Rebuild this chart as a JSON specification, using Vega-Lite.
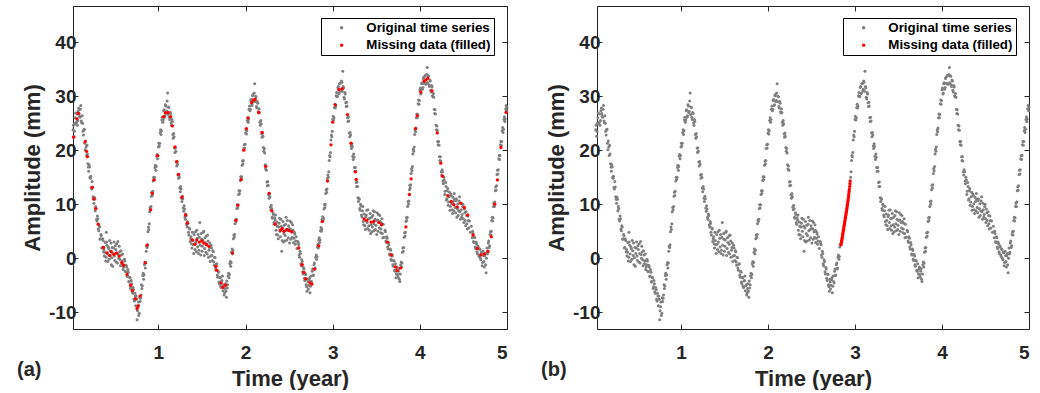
{
"$schema": "https://vega.github.io/schema/vega-lite/v6.json",
"padding": {"left": 16, "top": 5, "right": 0, "bottom": 0},
"background": "white",
"config": {
 "font": "Liberation Sans",
 "view": {"stroke": "#262626", "strokeWidth": 1},
 "axis": {"grid": false, "domain": false, "tickColor": "#262626", "tickSize": -5, "labelFont": "Liberation Sans", "labelFontWeight": "bold", "labelFontSize": 19, "labelColor": "#262626", "titleFont": "Liberation Sans", "titleFontWeight": "bold", "titleFontSize": 22, "titleColor": "#262626"},
 "legend": {"strokeColor": "#000000", "fillColor": "white", "padding": 3, "symbolType": "circle", "symbolSize": 12, "symbolStrokeWidth": 0, "symbolOffset": 11, "labelOffset": 18, "labelFont": "Liberation Sans", "labelFontWeight": "bold", "labelFontSize": 13.3, "labelColor": "#000000", "rowPadding": 3.7, "cornerRadius": 0}
},
"datasets": {
 "g": [
{"t":0.02,"v":23.8},{"t":0.03,"v":22.6},{"t":0.04,"v":25.0},{"t":0.05,"v":26.9},{"t":0.06,"v":25.2},{"t":0.07,"v":24.6},{"t":0.08,"v":27.3},{"t":0.09,"v":26.8},{"t":0.10,"v":26.1},{"t":0.11,"v":28.3},{"t":0.12,"v":25.1},{"t":0.13,"v":25.0},{"t":0.14,"v":22.8},{"t":0.15,"v":23.9},{"t":0.16,"v":20.1},{"t":0.17,"v":20.6},{"t":0.18,"v":20.9},{"t":0.19,"v":17.5},{"t":0.20,"v":16.1},{"t":0.21,"v":16.9},{"t":0.22,"v":14.8},{"t":0.23,"v":13.1},{"t":0.24,"v":14.2},{"t":0.25,"v":11.4},{"t":0.26,"v":10.2},{"t":0.27,"v":10.9},{"t":0.28,"v":9.6},{"t":0.29,"v":7.2},{"t":0.30,"v":7.8},{"t":0.31,"v":5.4},{"t":0.32,"v":6.0},{"t":0.33,"v":3.5},{"t":0.34,"v":4.4},{"t":0.35,"v":1.9},{"t":0.36,"v":3.6},{"t":0.37,"v":1.2},{"t":0.38,"v":0.4},{"t":0.385,"v":1.1},{"t":0.39,"v":2.9},{"t":0.395,"v":-0.5},{"t":0.40,"v":0.2},{"t":0.402,"v":4.8},{"t":0.405,"v":3.0},{"t":0.41,"v":2.4},{"t":0.415,"v":0.8},{"t":0.42,"v":-0.6},{"t":0.425,"v":2.1},{"t":0.43,"v":1.8},{"t":0.435,"v":-0.2},{"t":0.44,"v":3.3},{"t":0.445,"v":1.4},{"t":0.45,"v":0.5},{"t":0.455,"v":2.8},{"t":0.46,"v":-1.2},{"t":0.465,"v":0.1},{"t":0.47,"v":2.0},{"t":0.475,"v":-1.5},{"t":0.48,"v":0.9},{"t":0.485,"v":1.9},{"t":0.49,"v":3.0},{"t":0.495,"v":0.4},{"t":0.50,"v":-0.4},{"t":0.505,"v":2.3},{"t":0.51,"v":1.6},{"t":0.515,"v":-0.7},{"t":0.52,"v":2.7},{"t":0.525,"v":0.9},{"t":0.53,"v":-0.9},{"t":0.535,"v":3.1},{"t":0.54,"v":0.7},{"t":0.545,"v":0.0},{"t":0.55,"v":2.2},{"t":0.555,"v":1.2},{"t":0.56,"v":-0.3},{"t":0.565,"v":-1.4},{"t":0.57,"v":1.4},{"t":0.575,"v":0.6},{"t":0.58,"v":-1.0},{"t":0.585,"v":-0.5},{"t":0.59,"v":0.8},{"t":0.595,"v":-2.1},{"t":0.60,"v":-1.6},
{"t":0.61,"v":-0.2},{"t":0.62,"v":-2.4},{"t":0.63,"v":-1.3},{"t":0.64,"v":-3.4},{"t":0.65,"v":-2.1},{"t":0.66,"v":-4.3},{"t":0.67,"v":-3.5},{"t":0.68,"v":-5.6},{"t":0.69,"v":-4.1},{"t":0.70,"v":-6.2},{"t":0.71,"v":-5.4},{"t":0.72,"v":-7.6},{"t":0.73,"v":-6.5},{"t":0.74,"v":-8.8},{"t":0.745,"v":-7.0},{"t":0.75,"v":-7.6},{"t":0.755,"v":-11.4},{"t":0.76,"v":-9.7},{"t":0.765,"v":-9.0},{"t":0.77,"v":-8.1},{"t":0.775,"v":-10.6},{"t":0.78,"v":-10.2},{"t":0.785,"v":-7.3},{"t":0.79,"v":-8.0},{"t":0.80,"v":-6.8},
{"t":0.81,"v":-5.6},{"t":0.82,"v":-3.2},{"t":0.83,"v":-3.9},{"t":0.84,"v":-1.2},{"t":0.85,"v":-1.8},{"t":0.86,"v":1.3},{"t":0.87,"v":2.0},{"t":0.88,"v":4.9},{"t":0.89,"v":5.3},{"t":0.90,"v":8.6},{"t":0.91,"v":9.0},{"t":0.92,"v":11.5},{"t":0.93,"v":11.6},{"t":0.94,"v":14.3},{"t":0.95,"v":14.6},{"t":0.96,"v":16.8},{"t":0.97,"v":16.3},{"t":0.98,"v":18.9},{"t":0.99,"v":18.4},{"t":1.00,"v":20.6},
{"t":1.01,"v":20.8},{"t":1.02,"v":23.3},{"t":1.03,"v":22.9},{"t":1.04,"v":25.6},{"t":1.05,"v":25.2},{"t":1.06,"v":27.3},{"t":1.07,"v":26.1},{"t":1.08,"v":28.4},{"t":1.09,"v":27.0},{"t":1.10,"v":29.1},{"t":1.105,"v":30.6},{"t":1.11,"v":26.6},{"t":1.12,"v":27.9},{"t":1.13,"v":25.7},{"t":1.14,"v":26.8},{"t":1.15,"v":24.6},{"t":1.16,"v":25.3},{"t":1.17,"v":22.2},{"t":1.18,"v":22.5},{"t":1.19,"v":19.6},{"t":1.20,"v":19.8},
{"t":1.21,"v":17.1},{"t":1.22,"v":17.4},{"t":1.23,"v":14.8},{"t":1.24,"v":15.0},{"t":1.25,"v":12.3},{"t":1.26,"v":12.8},{"t":1.27,"v":10.5},{"t":1.28,"v":11.0},{"t":1.29,"v":8.7},{"t":1.30,"v":9.1},{"t":1.31,"v":7.2},{"t":1.32,"v":7.9},{"t":1.33,"v":5.8},{"t":1.34,"v":6.5},{"t":1.35,"v":4.3},{"t":1.36,"v":5.4},{"t":1.365,"v":3.1},{"t":1.37,"v":3.6},{"t":1.375,"v":4.0},{"t":1.38,"v":2.7},{"t":1.385,"v":1.9},{"t":1.39,"v":4.8},{"t":1.395,"v":3.3},{"t":1.40,"v":2.5},{"t":1.405,"v":0.9},{"t":1.41,"v":4.4},{"t":1.415,"v":2.6},{"t":1.42,"v":1.6},{"t":1.425,"v":4.9},{"t":1.43,"v":3.0},{"t":1.435,"v":1.2},{"t":1.44,"v":5.2},{"t":1.445,"v":3.7},{"t":1.45,"v":2.1},{"t":1.455,"v":4.4},{"t":1.46,"v":0.9},{"t":1.465,"v":1.5},{"t":1.47,"v":3.9},{"t":1.475,"v":6.6},{"t":1.48,"v":2.4},{"t":1.485,"v":0.6},{"t":1.49,"v":4.6},{"t":1.495,"v":3.5},{"t":1.50,"v":1.3},{"t":1.505,"v":2.2},{"t":1.51,"v":3.4},{"t":1.515,"v":4.8},{"t":1.52,"v":5.0},{"t":1.525,"v":0.5},{"t":1.53,"v":1.8},{"t":1.535,"v":3.8},{"t":1.54,"v":2.9},{"t":1.545,"v":1.1},{"t":1.55,"v":4.1},{"t":1.555,"v":2.6},{"t":1.56,"v":0.8},{"t":1.565,"v":4.3},{"t":1.57,"v":3.2},{"t":1.575,"v":0.2},{"t":1.58,"v":1.5},{"t":1.585,"v":2.0},{"t":1.59,"v":2.8},{"t":1.595,"v":-0.6},{"t":1.60,"v":0.4},
{"t":1.61,"v":1.9},{"t":1.62,"v":-0.4},{"t":1.63,"v":1.2},{"t":1.64,"v":-1.3},{"t":1.65,"v":0.1},{"t":1.66,"v":-2.2},{"t":1.67,"v":-1.0},{"t":1.68,"v":-3.5},{"t":1.69,"v":-2.6},{"t":1.70,"v":-4.7},{"t":1.71,"v":-3.6},{"t":1.72,"v":-5.4},{"t":1.73,"v":-4.1},{"t":1.735,"v":-3.3},{"t":1.74,"v":-6.0},{"t":1.75,"v":-4.9},{"t":1.755,"v":-6.8},{"t":1.76,"v":-6.4},{"t":1.765,"v":-5.6},{"t":1.77,"v":-4.7},{"t":1.775,"v":-6.1},{"t":1.78,"v":-7.2},{"t":1.785,"v":-4.2},{"t":1.79,"v":-5.5},{"t":1.80,"v":-3.3},
{"t":1.81,"v":-3.6},{"t":1.82,"v":-1.0},{"t":1.83,"v":-1.5},{"t":1.84,"v":1.1},{"t":1.85,"v":0.8},{"t":1.86,"v":3.6},{"t":1.87,"v":3.9},{"t":1.88,"v":6.4},{"t":1.89,"v":6.8},{"t":1.90,"v":9.2},{"t":1.91,"v":9.3},{"t":1.92,"v":11.8},{"t":1.93,"v":12.0},{"t":1.94,"v":14.4},{"t":1.95,"v":14.6},{"t":1.96,"v":17.2},{"t":1.97,"v":17.5},{"t":1.98,"v":20.3},{"t":1.99,"v":20.4},{"t":2.00,"v":23.2},
{"t":2.01,"v":23.0},{"t":2.02,"v":25.5},{"t":2.03,"v":25.2},{"t":2.04,"v":27.6},{"t":2.05,"v":27.3},{"t":2.06,"v":29.2},{"t":2.07,"v":28.3},{"t":2.08,"v":30.1},{"t":2.09,"v":29.0},{"t":2.10,"v":30.6},{"t":2.105,"v":32.3},{"t":2.11,"v":29.0},{"t":2.12,"v":29.9},{"t":2.13,"v":27.8},{"t":2.14,"v":28.7},{"t":2.15,"v":26.9},{"t":2.16,"v":27.0},{"t":2.17,"v":24.6},{"t":2.18,"v":24.9},{"t":2.19,"v":22.4},{"t":2.20,"v":22.6},
{"t":2.21,"v":19.8},{"t":2.22,"v":19.5},{"t":2.23,"v":16.5},{"t":2.24,"v":16.3},{"t":2.25,"v":13.4},{"t":2.26,"v":13.5},{"t":2.27,"v":11.1},{"t":2.28,"v":11.4},{"t":2.29,"v":9.0},{"t":2.30,"v":9.2},{"t":2.31,"v":7.4},{"t":2.32,"v":8.1},{"t":2.33,"v":6.3},{"t":2.34,"v":7.1},{"t":2.345,"v":8.0},{"t":2.35,"v":5.2},{"t":2.355,"v":4.4},{"t":2.36,"v":6.7},{"t":2.365,"v":5.9},{"t":2.37,"v":4.3},{"t":2.375,"v":3.6},{"t":2.38,"v":5.8},{"t":2.385,"v":6.5},{"t":2.39,"v":7.4},{"t":2.395,"v":5.0},{"t":2.40,"v":4.0},{"t":2.405,"v":7.2},{"t":2.41,"v":5.9},{"t":2.415,"v":1.3},{"t":2.42,"v":3.3},{"t":2.425,"v":5.6},{"t":2.43,"v":6.8},{"t":2.435,"v":3.0},{"t":2.44,"v":4.6},{"t":2.445,"v":6.1},{"t":2.45,"v":3.2},{"t":2.455,"v":4.2},{"t":2.46,"v":6.3},{"t":2.465,"v":7.6},{"t":2.47,"v":5.1},{"t":2.475,"v":3.4},{"t":2.48,"v":7.0},{"t":2.485,"v":5.3},{"t":2.49,"v":3.8},{"t":2.495,"v":6.0},{"t":2.50,"v":5.5},{"t":2.505,"v":2.8},{"t":2.51,"v":6.9},{"t":2.515,"v":5.4},{"t":2.52,"v":3.5},{"t":2.525,"v":6.6},{"t":2.53,"v":4.9},{"t":2.535,"v":3.9},{"t":2.54,"v":6.2},{"t":2.545,"v":5.2},{"t":2.55,"v":2.9},{"t":2.555,"v":3.7},{"t":2.56,"v":4.8},{"t":2.565,"v":4.5},{"t":2.57,"v":2.6},{"t":2.575,"v":3.2},{"t":2.58,"v":4.0},{"t":2.59,"v":1.8},{"t":2.60,"v":3.1},
{"t":2.61,"v":2.5},{"t":2.62,"v":0.2},{"t":2.63,"v":0.9},{"t":2.64,"v":-1.4},{"t":2.65,"v":-0.6},{"t":2.66,"v":-2.9},{"t":2.67,"v":-2.0},{"t":2.68,"v":-4.1},{"t":2.69,"v":-3.0},{"t":2.70,"v":-5.3},{"t":2.705,"v":-6.1},{"t":2.71,"v":-3.9},{"t":2.715,"v":-4.4},{"t":2.72,"v":-5.7},{"t":2.725,"v":-5.0},{"t":2.73,"v":-4.0},{"t":2.735,"v":-3.6},{"t":2.74,"v":-6.4},{"t":2.745,"v":-5.2},{"t":2.75,"v":-3.3},{"t":2.76,"v":-4.6},{"t":2.77,"v":-2.0},{"t":2.78,"v":-3.1},{"t":2.79,"v":-0.9},{"t":2.80,"v":-1.8},
{"t":2.81,"v":0.6},{"t":2.82,"v":0.3},{"t":2.83,"v":2.6},{"t":2.84,"v":3.4},{"t":2.85,"v":2.9},{"t":2.86,"v":5.1},{"t":2.87,"v":5.0},{"t":2.88,"v":7.2},{"t":2.89,"v":7.0},{"t":2.90,"v":9.1},{"t":2.91,"v":9.4},{"t":2.92,"v":12.0},{"t":2.93,"v":12.2},{"t":2.94,"v":14.8},{"t":2.95,"v":15.0},{"t":2.96,"v":18.1},{"t":2.97,"v":18.8},{"t":2.98,"v":21.9},{"t":2.99,"v":22.5},{"t":3.00,"v":25.7},
{"t":3.01,"v":25.6},{"t":3.02,"v":27.9},{"t":3.03,"v":27.8},{"t":3.04,"v":30.1},{"t":3.05,"v":29.9},{"t":3.06,"v":31.6},{"t":3.07,"v":30.5},{"t":3.08,"v":32.3},{"t":3.09,"v":31.0},{"t":3.10,"v":32.8},{"t":3.11,"v":30.9},{"t":3.115,"v":34.6},{"t":3.12,"v":31.8},{"t":3.13,"v":29.8},{"t":3.14,"v":30.7},{"t":3.15,"v":28.8},{"t":3.16,"v":28.9},{"t":3.17,"v":26.0},{"t":3.18,"v":26.1},{"t":3.19,"v":23.2},{"t":3.20,"v":23.3},
{"t":3.21,"v":20.8},{"t":3.22,"v":21.2},{"t":3.23,"v":18.9},{"t":3.24,"v":19.3},{"t":3.25,"v":16.8},{"t":3.26,"v":16.8},{"t":3.27,"v":14.0},{"t":3.28,"v":14.1},{"t":3.29,"v":11.2},{"t":3.30,"v":11.1},{"t":3.31,"v":9.2},{"t":3.32,"v":10.0},{"t":3.33,"v":8.0},{"t":3.34,"v":8.8},{"t":3.345,"v":9.6},{"t":3.35,"v":6.8},{"t":3.355,"v":6.2},{"t":3.36,"v":8.2},{"t":3.365,"v":7.0},{"t":3.37,"v":6.0},{"t":3.375,"v":5.3},{"t":3.38,"v":7.7},{"t":3.385,"v":8.0},{"t":3.39,"v":8.9},{"t":3.395,"v":6.6},{"t":3.40,"v":5.5},{"t":3.405,"v":9.0},{"t":3.41,"v":7.3},{"t":3.415,"v":6.0},{"t":3.42,"v":5.2},{"t":3.425,"v":7.4},{"t":3.43,"v":8.3},{"t":3.435,"v":4.6},{"t":3.44,"v":6.2},{"t":3.445,"v":7.6},{"t":3.45,"v":4.9},{"t":3.455,"v":5.8},{"t":3.46,"v":7.9},{"t":3.465,"v":8.8},{"t":3.47,"v":6.4},{"t":3.475,"v":5.1},{"t":3.48,"v":8.6},{"t":3.485,"v":7.2},{"t":3.49,"v":5.3},{"t":3.495,"v":6.1},{"t":3.50,"v":7.0},{"t":3.505,"v":4.4},{"t":3.51,"v":8.4},{"t":3.515,"v":7.1},{"t":3.52,"v":5.0},{"t":3.525,"v":8.1},{"t":3.53,"v":6.6},{"t":3.535,"v":5.6},{"t":3.54,"v":7.9},{"t":3.545,"v":6.8},{"t":3.55,"v":4.7},{"t":3.555,"v":5.4},{"t":3.56,"v":6.5},{"t":3.565,"v":7.3},{"t":3.57,"v":4.6},{"t":3.575,"v":3.8},{"t":3.58,"v":6.3},{"t":3.59,"v":3.9},{"t":3.60,"v":5.2},
{"t":3.61,"v":3.2},{"t":3.62,"v":4.0},{"t":3.63,"v":2.1},{"t":3.64,"v":2.9},{"t":3.65,"v":0.8},{"t":3.66,"v":1.7},{"t":3.67,"v":-0.2},{"t":3.68,"v":0.7},{"t":3.69,"v":-1.2},{"t":3.70,"v":-0.4},{"t":3.71,"v":-2.2},{"t":3.72,"v":-1.0},{"t":3.725,"v":-3.6},{"t":3.73,"v":-2.9},{"t":3.735,"v":-2.0},{"t":3.74,"v":-1.6},{"t":3.745,"v":-3.0},{"t":3.75,"v":-3.5},{"t":3.755,"v":-2.4},{"t":3.76,"v":-1.9},{"t":3.765,"v":-3.9},{"t":3.77,"v":-4.3},{"t":3.78,"v":-1.2},{"t":3.79,"v":-1.6},{"t":3.80,"v":1.1},
{"t":3.81,"v":1.3},{"t":3.82,"v":3.9},{"t":3.83,"v":4.1},{"t":3.84,"v":6.8},{"t":3.85,"v":7.0},{"t":3.86,"v":9.6},{"t":3.87,"v":10.0},{"t":3.88,"v":12.7},{"t":3.89,"v":13.0},{"t":3.90,"v":15.7},{"t":3.91,"v":16.2},{"t":3.92,"v":19.3},{"t":3.93,"v":19.8},{"t":3.94,"v":22.9},{"t":3.95,"v":23.4},{"t":3.96,"v":26.0},{"t":3.97,"v":26.0},{"t":3.98,"v":28.6},{"t":3.99,"v":28.5},{"t":4.00,"v":31.2},
{"t":4.01,"v":30.4},{"t":4.02,"v":32.3},{"t":4.03,"v":31.3},{"t":4.04,"v":33.3},{"t":4.05,"v":32.4},{"t":4.06,"v":33.8},{"t":4.07,"v":32.2},{"t":4.08,"v":34.0},{"t":4.085,"v":35.3},{"t":4.09,"v":32.5},{"t":4.10,"v":33.7},{"t":4.11,"v":31.8},{"t":4.12,"v":32.8},{"t":4.13,"v":30.8},{"t":4.14,"v":31.7},{"t":4.15,"v":29.9},{"t":4.16,"v":29.8},{"t":4.17,"v":26.8},{"t":4.18,"v":26.7},{"t":4.19,"v":23.8},{"t":4.20,"v":23.7},
{"t":4.21,"v":21.0},{"t":4.22,"v":20.9},{"t":4.23,"v":18.1},{"t":4.24,"v":18.0},{"t":4.25,"v":15.4},{"t":4.26,"v":16.0},{"t":4.27,"v":13.8},{"t":4.28,"v":14.5},{"t":4.285,"v":11.8},{"t":4.29,"v":12.4},{"t":4.295,"v":14.0},{"t":4.30,"v":13.3},{"t":4.305,"v":10.8},{"t":4.31,"v":11.0},{"t":4.315,"v":12.5},{"t":4.32,"v":12.9},{"t":4.325,"v":9.8},{"t":4.33,"v":10.4},{"t":4.335,"v":11.4},{"t":4.34,"v":12.2},{"t":4.345,"v":8.9},{"t":4.35,"v":9.6},{"t":4.355,"v":11.9},{"t":4.36,"v":11.6},{"t":4.365,"v":10.1},{"t":4.37,"v":9.0},{"t":4.375,"v":8.3},{"t":4.38,"v":11.3},{"t":4.385,"v":10.5},{"t":4.39,"v":8.8},{"t":4.395,"v":12.0},{"t":4.40,"v":10.9},{"t":4.405,"v":9.4},{"t":4.41,"v":8.4},{"t":4.415,"v":10.7},{"t":4.42,"v":11.0},{"t":4.425,"v":7.6},{"t":4.43,"v":9.2},{"t":4.435,"v":10.1},{"t":4.44,"v":7.9},{"t":4.445,"v":8.8},{"t":4.45,"v":10.6},{"t":4.455,"v":11.4},{"t":4.46,"v":8.6},{"t":4.465,"v":7.2},{"t":4.47,"v":10.2},{"t":4.475,"v":9.0},{"t":4.48,"v":7.6},{"t":4.485,"v":8.1},{"t":4.49,"v":9.6},{"t":4.495,"v":10.0},{"t":4.50,"v":7.3},{"t":4.505,"v":6.6},{"t":4.51,"v":9.1},{"t":4.515,"v":8.4},{"t":4.52,"v":7.0},{"t":4.525,"v":6.0},{"t":4.53,"v":8.6},{"t":4.535,"v":7.9},{"t":4.54,"v":6.4},{"t":4.545,"v":5.4},{"t":4.55,"v":7.8},{"t":4.555,"v":7.0},{"t":4.56,"v":5.6},{"t":4.57,"v":6.9},{"t":4.58,"v":4.8},{"t":4.59,"v":5.9},{"t":4.60,"v":3.8},
{"t":4.61,"v":4.6},{"t":4.62,"v":2.9},{"t":4.63,"v":3.8},{"t":4.64,"v":1.8},{"t":4.65,"v":2.7},{"t":4.66,"v":0.9},{"t":4.67,"v":2.1},{"t":4.68,"v":0.3},{"t":4.69,"v":1.6},{"t":4.70,"v":-0.3},{"t":4.71,"v":1.0},{"t":4.715,"v":-1.4},{"t":4.72,"v":-0.8},{"t":4.725,"v":1.3},{"t":4.73,"v":0.5},{"t":4.735,"v":-0.6},{"t":4.74,"v":-1.6},{"t":4.745,"v":0.4},{"t":4.75,"v":0.9},{"t":4.755,"v":-1.2},{"t":4.76,"v":-2.7},{"t":4.765,"v":0.0},{"t":4.77,"v":1.9},{"t":4.78,"v":1.1},{"t":4.79,"v":3.2},{"t":4.80,"v":2.3},
{"t":4.81,"v":4.9},{"t":4.82,"v":5.0},{"t":4.83,"v":7.6},{"t":4.84,"v":7.5},{"t":4.85,"v":10.2},{"t":4.86,"v":10.4},{"t":4.87,"v":13.2},{"t":4.88,"v":13.4},{"t":4.89,"v":16.3},{"t":4.90,"v":16.4},{"t":4.91,"v":19.0},{"t":4.92,"v":19.0},{"t":4.93,"v":21.6},{"t":4.94,"v":21.6},{"t":4.95,"v":24.2},{"t":4.96,"v":23.9},{"t":4.97,"v":26.2},{"t":4.98,"v":25.8},{"t":4.99,"v":28.3},{"t":5.00,"v":27.9},
{"t":0.025,"v":24.6},{"t":0.035,"v":23.5},{"t":0.045,"v":26.0},{"t":0.055,"v":24.9},{"t":0.065,"v":26.7},{"t":0.075,"v":25.5},{"t":0.085,"v":27.8},{"t":0.095,"v":26.3},{"t":0.105,"v":27.6},{"t":0.115,"v":25.4},{"t":0.125,"v":26.4},{"t":0.135,"v":23.5},{"t":0.145,"v":23.8},{"t":0.155,"v":21.3},{"t":0.165,"v":21.7},{"t":0.175,"v":19.0},{"t":0.185,"v":19.3},{"t":0.195,"v":16.9},{"t":0.205,"v":17.3},{"t":0.215,"v":15.0},{"t":0.225,"v":15.2},{"t":0.235,"v":12.8},{"t":0.245,"v":13.2},{"t":0.255,"v":10.9},{"t":0.265,"v":11.3},{"t":0.275,"v":8.8},{"t":0.285,"v":9.2},{"t":0.295,"v":6.9},{"t":0.305,"v":7.3},{"t":0.315,"v":5.1},{"t":0.325,"v":5.8},{"t":0.335,"v":3.6},{"t":0.345,"v":4.2},{"t":0.355,"v":2.0},{"t":0.365,"v":3.3},{"t":0.375,"v":1.6},
{"t":0.605,"v":-1.2},{"t":0.615,"v":-0.5},{"t":0.625,"v":-2.5},{"t":0.635,"v":-1.6},{"t":0.645,"v":-3.3},{"t":0.655,"v":-2.6},{"t":0.665,"v":-4.4},{"t":0.675,"v":-3.6},{"t":0.685,"v":-5.3},{"t":0.695,"v":-4.7},{"t":0.705,"v":-6.5},{"t":0.715,"v":-5.8},{"t":0.725,"v":-7.9},{"t":0.735,"v":-7.0},{"t":0.795,"v":-7.4},{"t":0.805,"v":-4.9},{"t":0.815,"v":-5.1},{"t":0.825,"v":-2.8},{"t":0.835,"v":-3.1},{"t":0.845,"v":-0.8},{"t":0.855,"v":-0.9},{"t":0.865,"v":2.2},{"t":0.875,"v":2.5},{"t":0.885,"v":5.8},{"t":0.895,"v":6.4},{"t":0.905,"v":9.4},{"t":0.915,"v":9.6},{"t":0.925,"v":12.2},{"t":0.935,"v":12.4},{"t":0.945,"v":15.0},{"t":0.955,"v":15.0},{"t":0.965,"v":17.2},{"t":0.975,"v":17.0},{"t":0.985,"v":19.2},{"t":0.995,"v":19.0},
{"t":1.005,"v":21.3},{"t":1.015,"v":21.3},{"t":1.025,"v":23.8},{"t":1.035,"v":23.6},{"t":1.045,"v":26.1},{"t":1.055,"v":25.6},{"t":1.065,"v":27.5},{"t":1.075,"v":26.4},{"t":1.085,"v":28.2},{"t":1.095,"v":27.2},{"t":1.115,"v":28.0},{"t":1.125,"v":26.1},{"t":1.135,"v":27.0},{"t":1.145,"v":25.1},{"t":1.155,"v":25.7},{"t":1.165,"v":22.9},{"t":1.175,"v":23.1},{"t":1.185,"v":20.4},{"t":1.195,"v":20.4},{"t":1.205,"v":17.8},{"t":1.215,"v":17.9},{"t":1.225,"v":15.4},{"t":1.235,"v":15.5},{"t":1.245,"v":13.0},{"t":1.255,"v":13.3},{"t":1.265,"v":11.1},{"t":1.275,"v":11.5},{"t":1.285,"v":9.3},{"t":1.295,"v":9.7},{"t":1.305,"v":7.6},{"t":1.315,"v":8.2},{"t":1.325,"v":6.2},{"t":1.335,"v":6.8},{"t":1.345,"v":4.8},{"t":1.355,"v":5.6},
{"t":1.605,"v":2.4},{"t":1.615,"v":0.5},{"t":1.625,"v":1.4},{"t":1.635,"v":-0.7},{"t":1.645,"v":0.2},{"t":1.655,"v":-1.8},{"t":1.665,"v":-1.1},{"t":1.675,"v":-3.1},{"t":1.685,"v":-2.4},{"t":1.695,"v":-4.4},{"t":1.705,"v":-3.5},{"t":1.715,"v":-5.2},{"t":1.725,"v":-4.2},{"t":1.745,"v":-5.1},{"t":1.795,"v":-4.9},{"t":1.805,"v":-2.8},{"t":1.815,"v":-3.0},{"t":1.825,"v":-0.6},{"t":1.835,"v":-0.8},{"t":1.845,"v":1.7},{"t":1.855,"v":1.5},{"t":1.865,"v":4.3},{"t":1.875,"v":4.4},{"t":1.885,"v":7.1},{"t":1.895,"v":7.2},{"t":1.905,"v":9.9},{"t":1.915,"v":9.9},{"t":1.925,"v":12.5},{"t":1.935,"v":12.5},{"t":1.945,"v":15.1},{"t":1.955,"v":15.1},{"t":1.965,"v":18.0},{"t":1.975,"v":18.1},{"t":1.985,"v":21.0},{"t":1.995,"v":21.1},
{"t":2.005,"v":23.8},{"t":2.015,"v":23.6},{"t":2.025,"v":26.0},{"t":2.035,"v":25.7},{"t":2.045,"v":28.2},{"t":2.055,"v":27.6},{"t":2.065,"v":29.4},{"t":2.075,"v":28.4},{"t":2.085,"v":30.3},{"t":2.095,"v":29.2},{"t":2.115,"v":30.0},{"t":2.125,"v":28.1},{"t":2.135,"v":29.0},{"t":2.145,"v":27.1},{"t":2.155,"v":27.7},{"t":2.165,"v":25.2},{"t":2.175,"v":25.5},{"t":2.185,"v":23.0},{"t":2.195,"v":23.2},{"t":2.205,"v":20.5},{"t":2.215,"v":20.3},{"t":2.225,"v":17.3},{"t":2.235,"v":17.1},{"t":2.245,"v":14.1},{"t":2.255,"v":14.2},{"t":2.265,"v":11.7},{"t":2.275,"v":12.0},{"t":2.285,"v":9.5},{"t":2.295,"v":9.8},{"t":2.305,"v":7.6},{"t":2.315,"v":8.4},{"t":2.325,"v":6.6},{"t":2.335,"v":7.5},
{"t":2.605,"v":2.8},{"t":2.615,"v":0.6},{"t":2.625,"v":1.3},{"t":2.635,"v":-1.0},{"t":2.645,"v":-0.3},{"t":2.655,"v":-2.5},{"t":2.665,"v":-1.7},{"t":2.675,"v":-3.7},{"t":2.685,"v":-2.9},{"t":2.695,"v":-4.9},{"t":2.755,"v":-4.3},{"t":2.765,"v":-2.4},{"t":2.775,"v":-3.2},{"t":2.785,"v":-1.2},{"t":2.795,"v":-2.0},{"t":2.805,"v":0.2},{"t":2.815,"v":-0.2},{"t":2.825,"v":2.1},{"t":2.835,"v":1.9},{"t":2.845,"v":3.8},{"t":2.855,"v":3.4},{"t":2.865,"v":5.7},{"t":2.875,"v":5.4},{"t":2.885,"v":7.7},{"t":2.895,"v":7.4},{"t":2.905,"v":9.9},{"t":2.915,"v":10.0},{"t":2.925,"v":12.7},{"t":2.935,"v":12.8},{"t":2.945,"v":15.4},{"t":2.955,"v":16.0},{"t":2.965,"v":19.0},{"t":2.975,"v":19.6},{"t":2.985,"v":22.8},{"t":2.995,"v":23.5},
{"t":3.005,"v":26.3},{"t":3.015,"v":26.0},{"t":3.025,"v":28.5},{"t":3.035,"v":28.2},{"t":3.045,"v":30.7},{"t":3.055,"v":30.0},{"t":3.065,"v":31.8},{"t":3.075,"v":30.6},{"t":3.085,"v":32.4},{"t":3.095,"v":31.3},{"t":3.105,"v":32.6},{"t":3.125,"v":31.5},{"t":3.135,"v":29.5},{"t":3.145,"v":30.4},{"t":3.155,"v":28.1},{"t":3.165,"v":28.2},{"t":3.175,"v":25.3},{"t":3.185,"v":25.4},{"t":3.195,"v":22.5},{"t":3.205,"v":22.8},{"t":3.215,"v":20.3},{"t":3.225,"v":20.7},{"t":3.235,"v":18.3},{"t":3.245,"v":18.7},{"t":3.255,"v":16.1},{"t":3.265,"v":16.1},{"t":3.275,"v":13.3},{"t":3.285,"v":13.3},{"t":3.295,"v":10.5},{"t":3.305,"v":10.9},{"t":3.315,"v":8.9},{"t":3.325,"v":9.7},{"t":3.335,"v":7.7},
{"t":3.605,"v":4.9},{"t":3.615,"v":2.9},{"t":3.625,"v":3.7},{"t":3.635,"v":1.7},{"t":3.645,"v":2.5},{"t":3.655,"v":0.6},{"t":3.665,"v":1.5},{"t":3.675,"v":-0.4},{"t":3.685,"v":0.4},{"t":3.695,"v":-1.5},{"t":3.705,"v":-0.5},{"t":3.715,"v":-2.4},{"t":3.775,"v":-2.9},{"t":3.785,"v":-0.7},{"t":3.795,"v":-0.9},{"t":3.805,"v":1.9},{"t":3.815,"v":2.0},{"t":3.825,"v":4.7},{"t":3.835,"v":4.8},{"t":3.845,"v":7.5},{"t":3.855,"v":7.6},{"t":3.865,"v":10.5},{"t":3.875,"v":10.6},{"t":3.885,"v":13.5},{"t":3.895,"v":13.6},{"t":3.905,"v":16.6},{"t":3.915,"v":17.0},{"t":3.925,"v":20.2},{"t":3.935,"v":20.6},{"t":3.945,"v":23.8},{"t":3.955,"v":24.1},{"t":3.965,"v":26.7},{"t":3.975,"v":26.6},{"t":3.985,"v":29.3},{"t":3.995,"v":29.2},
{"t":4.005,"v":31.5},{"t":4.015,"v":30.6},{"t":4.025,"v":32.5},{"t":4.035,"v":31.6},{"t":4.045,"v":33.5},{"t":4.055,"v":32.3},{"t":4.065,"v":33.9},{"t":4.075,"v":32.4},{"t":4.095,"v":33.8},{"t":4.105,"v":32.1},{"t":4.115,"v":33.0},{"t":4.125,"v":31.1},{"t":4.135,"v":32.0},{"t":4.145,"v":30.1},{"t":4.155,"v":30.5},{"t":4.165,"v":27.6},{"t":4.175,"v":27.5},{"t":4.185,"v":24.6},{"t":4.195,"v":24.5},{"t":4.205,"v":21.6},{"t":4.215,"v":21.6},{"t":4.225,"v":18.8},{"t":4.235,"v":18.8},{"t":4.245,"v":16.0},{"t":4.255,"v":16.4},{"t":4.265,"v":14.3},{"t":4.275,"v":15.0},
{"t":4.605,"v":5.0},{"t":4.615,"v":3.1},{"t":4.625,"v":4.0},{"t":4.635,"v":2.1},{"t":4.645,"v":3.0},{"t":4.655,"v":1.2},{"t":4.665,"v":2.3},{"t":4.675,"v":0.6},{"t":4.685,"v":1.7},{"t":4.695,"v":0.0},{"t":4.705,"v":1.1},{"t":4.775,"v":0.8},{"t":4.785,"v":2.8},{"t":4.795,"v":2.0},{"t":4.805,"v":4.4},{"t":4.815,"v":4.3},{"t":4.825,"v":7.0},{"t":4.835,"v":6.9},{"t":4.845,"v":9.6},{"t":4.855,"v":9.6},{"t":4.865,"v":12.5},{"t":4.875,"v":12.6},{"t":4.885,"v":15.5},{"t":4.895,"v":15.6},{"t":4.905,"v":18.4},{"t":4.915,"v":18.3},{"t":4.925,"v":21.0},{"t":4.935,"v":20.9},{"t":4.945,"v":23.6},{"t":4.955,"v":23.3},{"t":4.965,"v":25.7},{"t":4.975,"v":25.3},{"t":4.985,"v":27.7},{"t":4.995,"v":27.3}
 ],
 "ra": [
{"t":0.027,"v":22.4},{"t":0.065,"v":25.8},{"t":0.08,"v":26.8},{"t":0.16,"v":21.6},{"t":0.175,"v":19.8},{"t":0.185,"v":18.8},{"t":0.24,"v":13.1},{"t":0.26,"v":11.0},{"t":0.28,"v":9.2},{"t":0.31,"v":6.3},{"t":0.37,"v":2.0},{"t":0.41,"v":1.0},{"t":0.44,"v":0.5},{"t":0.46,"v":1.2},{"t":0.49,"v":0.7},{"t":0.52,"v":1.0},{"t":0.55,"v":0.4},{"t":0.58,"v":-0.8},{"t":0.60,"v":-1.3},{"t":0.64,"v":-3.0},{"t":0.68,"v":-5.0},{"t":0.70,"v":-6.0},{"t":0.735,"v":-7.5},{"t":0.755,"v":-9.3},{"t":0.77,"v":-8.8},{"t":0.79,"v":-7.0},{"t":0.85,"v":-0.8},{"t":0.87,"v":2.4},{"t":0.91,"v":9.0},{"t":0.93,"v":12.0},{"t":0.95,"v":14.5},{"t":0.99,"v":19.0},
{"t":1.06,"v":26.2},{"t":1.08,"v":26.9},{"t":1.11,"v":27.0},{"t":1.14,"v":26.2},{"t":1.16,"v":24.5},{"t":1.19,"v":20.6},{"t":1.21,"v":17.9},{"t":1.23,"v":15.5},{"t":1.27,"v":11.3},{"t":1.31,"v":8.0},{"t":1.33,"v":6.5},{"t":1.39,"v":3.4},{"t":1.42,"v":2.6},{"t":1.44,"v":3.4},{"t":1.47,"v":3.0},{"t":1.50,"v":3.2},{"t":1.52,"v":2.8},{"t":1.55,"v":2.5},{"t":1.58,"v":2.2},{"t":1.66,"v":-1.5},{"t":1.67,"v":-2.2},{"t":1.72,"v":-4.6},{"t":1.74,"v":-5.4},{"t":1.77,"v":-5.0},{"t":1.85,"v":1.0},{"t":1.89,"v":7.0},{"t":1.91,"v":9.8},{"t":1.95,"v":14.6},{"t":1.98,"v":20.0},
{"t":2.01,"v":24.0},{"t":2.03,"v":26.0},{"t":2.07,"v":28.8},{"t":2.09,"v":29.3},{"t":2.11,"v":29.4},{"t":2.15,"v":27.0},{"t":2.19,"v":23.3},{"t":2.23,"v":17.0},{"t":2.27,"v":12.0},{"t":2.30,"v":8.8},{"t":2.34,"v":6.3},{"t":2.40,"v":5.2},{"t":2.42,"v":5.5},{"t":2.44,"v":5.0},{"t":2.47,"v":5.3},{"t":2.50,"v":5.1},{"t":2.53,"v":4.9},{"t":2.61,"v":1.9},{"t":2.65,"v":-1.2},{"t":2.67,"v":-2.6},{"t":2.69,"v":-3.8},{"t":2.74,"v":-4.5},{"t":2.76,"v":-4.8},{"t":2.79,"v":-2.0},{"t":2.84,"v":2.3},{"t":2.88,"v":6.8},{"t":2.94,"v":14.3},{"t":2.98,"v":21.0},
{"t":3.00,"v":25.2},{"t":3.03,"v":28.4},{"t":3.07,"v":31.2},{"t":3.11,"v":31.4},{"t":3.17,"v":26.6},{"t":3.21,"v":21.3},{"t":3.26,"v":16.0},{"t":3.27,"v":14.6},{"t":3.36,"v":7.3},{"t":3.39,"v":7.0},{"t":3.44,"v":6.7},{"t":3.47,"v":6.8},{"t":3.53,"v":6.6},{"t":3.56,"v":6.2},{"t":3.63,"v":3.0},{"t":3.67,"v":0.6},{"t":3.72,"v":-1.6},{"t":3.74,"v":-2.3},{"t":3.78,"v":-1.8},{"t":3.84,"v":5.8},{"t":3.88,"v":11.8},{"t":3.90,"v":14.7},{"t":3.95,"v":24.0},{"t":3.97,"v":26.4},
{"t":4.01,"v":30.8},{"t":4.05,"v":32.8},{"t":4.07,"v":33.0},{"t":4.09,"v":33.3},{"t":4.14,"v":31.0},{"t":4.20,"v":23.2},{"t":4.24,"v":17.6},{"t":4.26,"v":15.2},{"t":4.32,"v":11.6},{"t":4.36,"v":10.5},{"t":4.39,"v":9.9},{"t":4.43,"v":9.5},{"t":4.47,"v":10.2},{"t":4.51,"v":9.4},{"t":4.55,"v":8.0},{"t":4.61,"v":4.3},{"t":4.66,"v":1.8},{"t":4.70,"v":0.6},{"t":4.74,"v":0.8},{"t":4.78,"v":1.3},{"t":4.82,"v":4.0},{"t":4.86,"v":10.0},{"t":4.89,"v":14.5},{"t":4.93,"v":20.5},{"t":4.99,"v":27.0}
 ],
 "rb": [
{"t":2.840,"v":2.5},{"t":2.843,"v":2.8},{"t":2.846,"v":3.1},{"t":2.849,"v":3.4},{"t":2.852,"v":3.7},{"t":2.855,"v":4.0},{"t":2.858,"v":4.3},{"t":2.861,"v":4.6},{"t":2.864,"v":4.9},{"t":2.867,"v":5.2},{"t":2.870,"v":5.5},{"t":2.873,"v":5.8},{"t":2.876,"v":6.1},{"t":2.879,"v":6.4},{"t":2.882,"v":6.7},{"t":2.885,"v":7.0},{"t":2.888,"v":7.3},{"t":2.891,"v":7.6},{"t":2.894,"v":7.9},{"t":2.897,"v":8.2},{"t":2.900,"v":8.5},{"t":2.903,"v":8.8},{"t":2.906,"v":9.1},{"t":2.909,"v":9.4},{"t":2.912,"v":9.8},{"t":2.915,"v":10.1},{"t":2.918,"v":10.5},{"t":2.921,"v":10.8},{"t":2.924,"v":11.2},{"t":2.927,"v":11.6},{"t":2.930,"v":12.0},{"t":2.933,"v":12.4},{"t":2.936,"v":12.8},{"t":2.939,"v":13.3},{"t":2.942,"v":13.8},{"t":2.945,"v":14.3}
 ]
},
"hconcat": [
 {
  "width": 434, "height": 323,
  "title": {"text": "(a)", "orient": "bottom", "anchor": "start", "frame": "group", "dx": -56, "dy": -29, "offset": 0, "fontSize": 20, "fontWeight": "bold", "font": "Liberation Sans", "color": "#262626"},
  "layer": [
   {"data": {"name": "g"},
    "mark": {"type": "point", "filled": true, "opacity": 1, "size": 9},
    "encoding": {
     "x": {"field": "t", "type": "quantitative", "scale": {"domain": [0.02, 5], "nice": false, "zero": false}, "axis": {"orient": "bottom", "values": [1,2,3,4,5], "title": "Time (year)", "labelPadding": 19, "titlePadding": 6}},
     "y": {"field": "v", "type": "quantitative", "scale": {"domain": [-13.1, 46.7], "nice": false, "zero": false}, "axis": {"orient": "left", "values": [-10,0,10,20,30,40], "labelExpr": "'' + datum.value", "title": "Amplitude (mm)", "labelPadding": 2, "titlePadding": 4}},
     "color": {"datum": "Original time series", "type": "nominal", "scale": {"domain": ["Original time series", "Missing data (filled)"], "range": ["#7f7f7f", "#ff0000"]}, "legend": {"orient": "none", "legendX": 248, "legendY": 12, "title": null, "labelExpr": "datum.label + '\u00a0\u00a0\u00a0'"}}
    }},
   {"data": {"name": "ra"},
    "mark": {"type": "point", "filled": true, "opacity": 1, "size": 11},
    "encoding": {
     "x": {"field": "t", "type": "quantitative", "axis": {"orient": "top", "values": [1,2,3,4,5], "labels": false, "title": null}},
     "y": {"field": "v", "type": "quantitative", "axis": {"orient": "right", "values": [-10,0,10,20,30,40], "labels": false, "title": null}},
     "color": {"datum": "Missing data (filled)", "type": "nominal"}
    }}
  ],
  "resolve": {"axis": {"x": "independent", "y": "independent"}}
 },
 {
  "width": 432, "height": 323,
  "title": {"text": "(b)", "orient": "bottom", "anchor": "start", "frame": "group", "dx": -56, "dy": -29, "offset": 0, "fontSize": 20, "fontWeight": "bold", "font": "Liberation Sans", "color": "#262626"},
  "layer": [
   {"data": {"name": "g"},
    "transform": [{"filter": "datum.t < 2.835 || datum.t > 2.945"}],
    "mark": {"type": "point", "filled": true, "opacity": 1, "size": 9},
    "encoding": {
     "x": {"field": "t", "type": "quantitative", "scale": {"domain": [0.035, 5], "nice": false, "zero": false}, "axis": {"orient": "bottom", "values": [1,2,3,4,5], "title": "Time (year)", "labelPadding": 19, "titlePadding": 6}},
     "y": {"field": "v", "type": "quantitative", "scale": {"domain": [-13.1, 46.7], "nice": false, "zero": false}, "axis": {"orient": "left", "values": [-10,0,10,20,30,40], "labelExpr": "'' + datum.value", "title": "Amplitude (mm)", "labelPadding": 2, "titlePadding": 4}},
     "color": {"datum": "Original time series", "type": "nominal", "scale": {"domain": ["Original time series", "Missing data (filled)"], "range": ["#7f7f7f", "#ff0000"]}, "legend": {"orient": "none", "legendX": 246, "legendY": 12, "title": null, "labelExpr": "datum.label + '\u00a0\u00a0\u00a0'"}}
    }},
   {"data": {"name": "rb"},
    "mark": {"type": "point", "filled": true, "opacity": 1, "size": 11},
    "encoding": {
     "x": {"field": "t", "type": "quantitative", "axis": {"orient": "top", "values": [1,2,3,4,5], "labels": false, "title": null}},
     "y": {"field": "v", "type": "quantitative", "axis": {"orient": "right", "values": [-10,0,10,20,30,40], "labels": false, "title": null}},
     "color": {"datum": "Missing data (filled)", "type": "nominal"}
    }}
  ],
  "resolve": {"axis": {"x": "independent", "y": "independent"}}
 }
],
"spacing": 31,
"resolve": {"scale": {"color": "independent"}, "legend": {"color": "independent"}}
}
